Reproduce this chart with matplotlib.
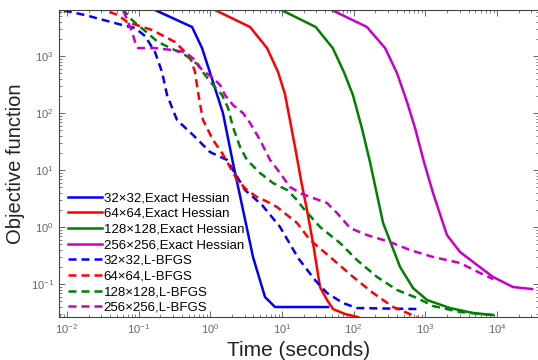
import matplotlib
matplotlib.use("Agg")
import matplotlib.pyplot as plt
from matplotlib.ticker import FixedLocator, LogLocator, NullFormatter

plt.rcParams.update({
    "font.family": ["Liberation Sans", "DejaVu Sans"],
    "mathtext.default": "regular",
    "xtick.direction": "in",
    "ytick.direction": "in",
})

# time (s) / objective value pairs
t_exact_32 = [0.078, 0.556, 0.766, 1.09, 1.50, 2.07, 2.86, 3.94, 5.80, 8.0, 43.9]
f_exact_32 = [1e4, 3230, 1380, 350, 100, 13.3, 1.99, 0.298, 0.059, 0.0395, 0.0395]

t_exact_64 = [0.56, 3.58, 6.18, 8.81, 11.0, 15.2, 18.4, 22.3, 27.1, 33.9, 42.5, 51.5, 75.7, 115]
f_exact_64 = [1e4, 3230, 1380, 523, 215, 25.3, 6.68, 1.99, 0.524, 0.0886, 0.0524, 0.0364,
              0.0298, 0.0263]

t_exact_128 = [4.8, 29.5, 51.0, 73.1, 97.6, 130, 169, 257, 444, 673, 1056, 2210, 4630, 8810]
f_exact_128 = [1e4, 3230, 1380, 523, 207, 54.6, 13.8, 1.18, 0.199, 0.085, 0.0524, 0.0379,
               0.031, 0.0286]

t_exact_256 = [23.8, 153, 274, 402, 555, 718, 957, 1280, 2000, 3050, 5260, 8790, 16700, 30800]
f_exact_256 = [1e4, 3230, 1380, 503, 156, 54.6, 13.8, 3.95, 0.724, 0.364, 0.216, 0.133,
               0.0886, 0.0817]

t_lbfgs_32 = [0.006, 0.0179, 0.0588, 0.089, 0.123, 0.169, 0.212, 0.249, 0.343, 0.574, 0.99,
              1.71, 2.07, 2.77, 3.05, 5.27, 9.4, 16.8, 28.9, 42.5, 71.1, 111, 791]
f_lbfgs_32 = [7000, 5230, 3500, 3100, 2240, 1175, 523, 207, 75.4, 41.1, 20.7, 15.0, 10,
              5.46, 4.46, 2.43, 1.0, 0.286, 0.117, 0.0695, 0.0464, 0.0379, 0.0364]

t_lbfgs_64 = [0.012, 0.0517, 0.0689, 0.154, 0.322, 0.416, 0.521, 0.612, 0.673, 0.766, 0.791,
              1.09, 1.46, 1.88, 2.36, 3.25, 4.48, 6.81, 8.53, 16.2, 24.6, 46.9, 98.2, 187,
              355, 767]
f_lbfgs_64 = [1e4, 5230, 3950, 2860, 1760, 1275, 960, 523, 234, 92.2, 75.4, 33.6, 19.9,
              11.3, 6.68, 4.46, 3.36, 2.64, 2.24, 1.18, 0.592, 0.298, 0.133, 0.0695,
              0.0395, 0.0263]

t_lbfgs_128 = [0.045, 0.081, 0.123, 0.186, 0.444, 0.652, 0.843, 1.09, 1.46, 1.77, 2.07, 2.6,
               3.25, 4.94, 7.49, 11.8, 16.2, 19.7, 34, 64.6, 111, 212, 403, 767, 1283,
               3055, 8810]
f_lbfgs_128 = [1e4, 4270, 2750, 1760, 1042, 724, 464, 310, 207, 122, 56.8, 25.3, 15, 8.86,
               5.91, 4.46, 2.98, 2.15, 1.0, 0.524, 0.264, 0.133, 0.0785, 0.0568, 0.0411,
               0.0323, 0.0286]

t_lbfgs_256 = [0.052, 0.0713, 0.081, 0.0892, 0.098, 0.169, 0.292, 0.444, 0.612, 0.766, 1.09,
               1.37, 1.6, 2.07, 2.86, 3.58, 4.94, 6.81, 9.4, 12.9, 19.1, 27.1, 42.5, 58.6,
               89, 153, 321, 611, 1280, 3050, 5800, 8810]
f_lbfgs_256 = [1e4, 3950, 2650, 1760, 1380, 1380, 1275, 1175, 851, 568, 411, 310, 207, 138,
               100, 66.8, 33.6, 15, 8.86, 5.03, 3.79, 3.23, 2.64, 1.76, 0.96, 0.724, 0.546,
               0.395, 0.298, 0.234, 0.156, 0.122]

x_major = [1e-2, 1e-1, 1e0, 1e1, 1e2, 1e3, 1e4]
y_major = [1e-1, 1e0, 1e1, 1e2, 1e3]

series = [
    (t_exact_32, f_exact_32, "#0000ff", "-", "32\u00d732,Exact Hessian"),
    (t_exact_64, f_exact_64, "#ff0000", "-", "64\u00d764,Exact Hessian"),
    (t_exact_128, f_exact_128, "#008000", "-", "128\u00d7128,Exact Hessian"),
    (t_exact_256, f_exact_256, "#c800c8", "-", "256\u00d7256,Exact Hessian"),
    (t_lbfgs_32, f_lbfgs_32, "#0000ff", "--", "32\u00d732,L-BFGS"),
    (t_lbfgs_64, f_lbfgs_64, "#ff0000", "--", "64\u00d764,L-BFGS"),
    (t_lbfgs_128, f_lbfgs_128, "#008000", "--", "128\u00d7128,L-BFGS"),
    (t_lbfgs_256, f_lbfgs_256, "#c800c8", "--", "256\u00d7256,L-BFGS"),
]

W, H = 538, 360
fig = plt.figure(figsize=(W / 100, H / 100), dpi=100)
ax = fig.add_axes([58.5 / W, (H - 317) / H, (539 - 58.5) / W, (317 - 10) / H])

for t, f, color, ls, label in series:
    if ls == "--":
        ax.plot(t, f, color=color, lw=1.8, linestyle=(0, (3.2, 2.0)), label=label)
    else:
        ax.plot(t, f, color=color, lw=1.8, label=label)

ax.set_xscale("log")
ax.set_yscale("log")
ax.set_xlim(0.00762, 38500)
ax.set_ylim(0.0264, 6412)

ax.xaxis.set_major_locator(FixedLocator(x_major))
ax.xaxis.set_minor_locator(LogLocator(base=10, subs=range(2, 10), numticks=20))
ax.xaxis.set_minor_formatter(NullFormatter())
ax.yaxis.set_major_locator(FixedLocator(y_major))
ax.yaxis.set_minor_locator(LogLocator(base=10, subs=range(2, 10), numticks=20))
ax.yaxis.set_minor_formatter(NullFormatter())

ax.tick_params(which="both", top=True, right=True, colors="#666666", labelsize=8)
ax.tick_params(which="major", length=4, width=0.7)
ax.tick_params(which="minor", length=2, width=0.6)
for s in ax.spines.values():
    s.set_color("#444444")
    s.set_linewidth(0.8)

ax.set_xlabel("Time (seconds)", fontsize=15, color="#222222", labelpad=4)
ax.set_ylabel("Objective function", fontsize=14.5, color="#222222", labelpad=4)

ax.legend(loc="upper left", bbox_to_anchor=(68 / W, 1 - 192 / H),
          bbox_transform=fig.transFigure, frameon=False, fontsize=9.5,
          borderpad=0, borderaxespad=0, handlelength=2.6, handletextpad=0.1,
          labelspacing=0.26)

fig.savefig("out.png", dpi=100)
